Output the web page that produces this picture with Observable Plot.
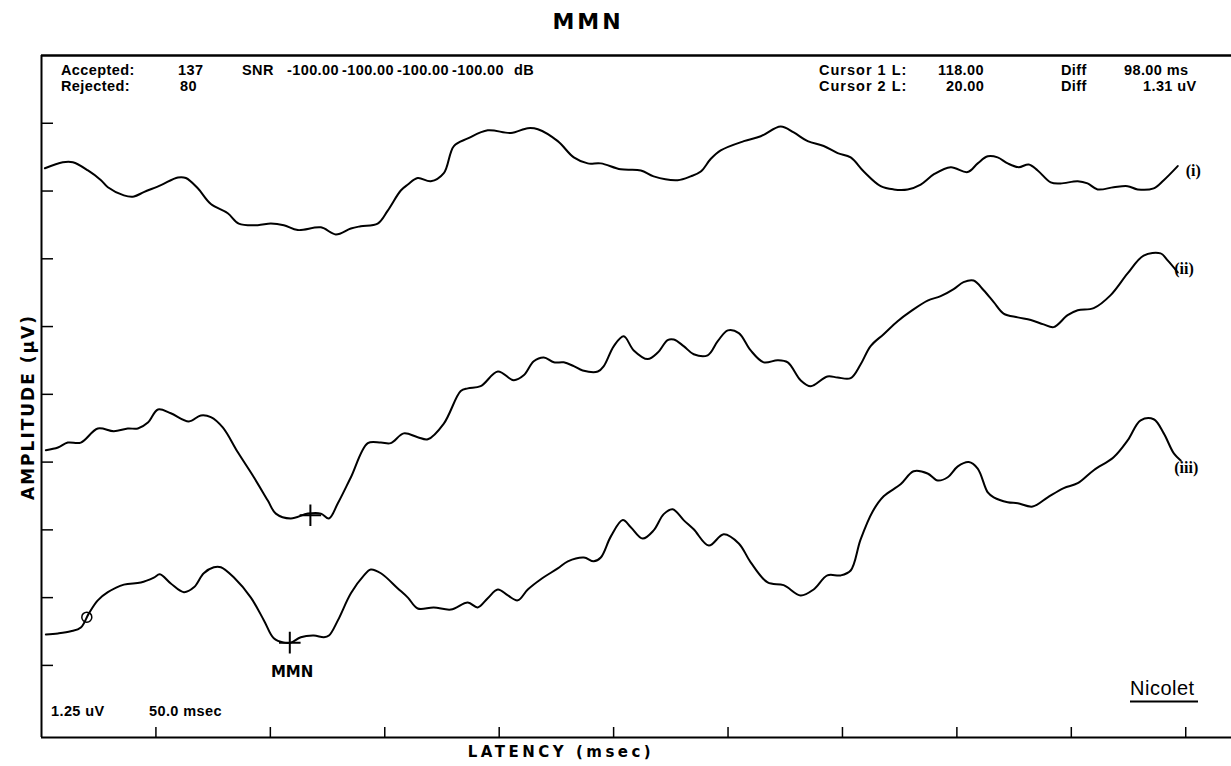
<!DOCTYPE html>
<html><head><meta charset="utf-8">
<script src="https://cdn.jsdelivr.net/npm/d3@7"></script>
<script src="https://cdn.jsdelivr.net/npm/@observablehq/plot@0.6"></script>
<style>
body{margin:0;background:#fff;}
#wrap{position:relative;width:1231px;height:766px;overflow:hidden;background:#fff;}
#wrap svg{position:absolute;left:0;top:0;}
.t{position:absolute;white-space:nowrap;line-height:1;color:#000;transform:translateY(-50%);}
.hd{font-family:"Liberation Sans",sans-serif;font-size:14.5px;font-weight:bold;letter-spacing:0.4px;}
.hand{font-family:"DejaVu Sans",sans-serif;font-weight:bold;}
</style></head><body><div id="wrap"></div>
<script>
// Latency (ms) and amplitude (µV, on the display axis)
const waveI = [[1.5,9.17],[9.3,9.28],[13.7,9.28],[20.3,9.13],[26.0,8.95],[29.0,8.82],[36.0,8.67],[40.4,8.65],[44.7,8.73],[52.2,8.86],[59.6,9.00],[63.1,8.99],[68.3,8.80],[74.0,8.51],[81.4,8.34],[86.2,8.15],[94.5,8.12],[100.2,8.15],[105.9,8.12],[112.0,8.03],[122.1,8.08],[128.6,7.95],[135.2,8.06],[139.5,8.10],[146.9,8.15],[151.3,8.39],[157.0,8.76],[160.1,8.87],[164.4,8.99],[170.1,8.93],[175.8,9.08],[180.2,9.58],[186.3,9.72],[195.0,9.87],[205.1,9.82],[212.5,9.91],[216.9,9.89],[225.6,9.67],[232.6,9.37],[238.7,9.26],[244.4,9.26],[253.1,9.15],[261.9,9.13],[267.5,9.02],[278.0,8.95],[283.7,9.02],[288.1,9.11],[292.4,9.34],[296.8,9.50],[306.9,9.67],[314.3,9.76],[323.0,9.94],[328.7,9.83],[334.8,9.67],[341.8,9.58],[347.9,9.45],[353.6,9.37],[359.3,9.11],[366.7,8.84],[372.4,8.78],[378.5,8.78],[384.2,8.87],[390.0,9.06],[397.3,9.19],[404.7,9.10],[409.1,9.26],[413.5,9.39],[417.8,9.37],[422.2,9.26],[427.0,9.19],[431.4,9.24],[435.3,9.13],[441.0,8.91],[445.3,8.89],[452.8,8.93],[457.1,8.89],[461.5,8.78],[468.5,8.82],[474.6,8.84],[479.0,8.78],[486.0,8.80],[490.4,8.95],[496.5,9.21]];
const waveII = [[1.9,3.97],[7.2,4.02],[11.5,4.11],[17.2,4.11],[24.6,4.37],[31.6,4.32],[37.7,4.37],[42.1,4.37],[46.5,4.48],[50.9,4.72],[56.5,4.65],[64.4,4.50],[69.6,4.61],[74.0,4.58],[79.2,4.39],[85.8,3.93],[92.8,3.47],[98.9,3.04],[102.4,2.80],[108.9,2.71],[116.4,2.80],[122.1,2.80],[125.6,2.71],[129.5,2.99],[135.2,3.47],[142.6,4.10],[148.3,4.11],[152.6,4.10],[158.3,4.28],[164.4,4.21],[168.8,4.17],[175.8,4.46],[183.2,5.06],[186.3,5.11],[191.9,5.15],[199.4,5.42],[206.4,5.26],[210.7,5.35],[215.1,5.61],[219.5,5.68],[223.9,5.59],[228.2,5.59],[232.6,5.52],[236.5,5.44],[243.1,5.42],[245.7,5.52],[250.1,5.89],[254.4,6.07],[258.8,5.81],[264.9,5.65],[269.3,5.77],[273.6,6.00],[276.3,6.01],[280.6,5.89],[285.0,5.74],[291.1,5.72],[295.5,5.98],[299.9,6.18],[304.7,6.13],[309.9,5.81],[315.6,5.59],[321.7,5.63],[326.1,5.59],[331.7,5.26],[336.1,5.15],[343.4,5.33],[347.9,5.31],[353.6,5.30],[357.9,5.55],[362.3,5.89],[368.0,6.11],[374.1,6.35],[379.8,6.53],[387.2,6.73],[392.9,6.81],[398.6,6.94],[402.9,7.07],[407.3,7.10],[411.7,6.92],[416.1,6.70],[420.4,6.49],[426.6,6.42],[432.3,6.37],[437.9,6.29],[442.3,6.24],[448.4,6.46],[452.8,6.55],[459.8,6.59],[467.2,6.83],[474.6,7.23],[481.6,7.56],[489.0,7.60],[492.1,7.47],[496.5,7.25]];
const waveIII = [[1.9,0.57],[7.2,0.59],[12.8,0.63],[17.2,0.70],[20.7,0.96],[24.6,1.20],[29.0,1.35],[36.0,1.49],[43.4,1.53],[49.1,1.62],[51.7,1.68],[56.5,1.51],[62.2,1.35],[66.6,1.44],[70.9,1.70],[75.3,1.81],[78.4,1.81],[84.1,1.62],[91.5,1.25],[97.2,0.83],[101.5,0.50],[105.9,0.42],[108.9,0.42],[113.3,0.52],[119.0,0.55],[123.4,0.52],[125.6,0.55],[129.5,0.83],[135.2,1.33],[140.9,1.66],[143.9,1.77],[148.3,1.70],[155.7,1.42],[160.1,1.25],[164.4,1.05],[171.4,1.07],[178.9,1.03],[186.3,1.16],[190.6,1.07],[195.0,1.24],[199.4,1.40],[203.8,1.29],[208.1,1.20],[212.5,1.40],[218.2,1.59],[225.6,1.79],[230.0,1.92],[237.0,1.99],[241.3,1.92],[244.4,1.99],[248.8,2.38],[254.0,2.68],[257.5,2.55],[262.7,2.34],[267.5,2.49],[271.9,2.79],[275.8,2.88],[280.6,2.68],[285.0,2.51],[291.6,2.21],[298.1,2.42],[304.7,2.25],[309.9,1.90],[317.3,1.53],[324.3,1.48],[331.7,1.29],[337.4,1.40],[343.4,1.66],[349.2,1.66],[353.6,1.75],[357.9,2.32],[363.2,2.84],[368.0,3.12],[375.4,3.34],[381.1,3.58],[387.2,3.54],[391.6,3.41],[396.0,3.47],[400.4,3.67],[405.2,3.75],[409.1,3.63],[413.5,3.19],[416.1,3.10],[422.2,3.01],[426.6,2.99],[433.1,2.93],[439.7,3.10],[446.7,3.27],[452.8,3.36],[459.8,3.60],[468.5,3.84],[474.6,4.15],[480.3,4.52],[486.0,4.54],[490.4,4.28],[494.8,3.91],[497.8,3.78]];

const waveNames = ["i", "ii", "iii"];
const curveLabels = [{t: 500, v: 9.13, label: "(i)"}, {t: 495, v: 7.32, label: "(ii)"}, {t: 495, v: 3.65, label: "(iii)"}];
const cursorMarks = [{t: 117.5, v: 2.77}, {t: 108.5, v: 0.42}];
const circleMarks = [{t: 19.8, v: 0.89}];
const annotations = [{t: 109.5, v: -0.13, label: "MMN"}];

const xMax = 520, yMin = -1.33, yMax = 11.25;
const xTicks = d3.range(50, 520, 50);          // 50 ms per division
const yTicks = d3.range(0, 10.01, 1.25);       // 1.25 µV per division

const rows = [waveI, waveII, waveIII].flatMap((w, i) => w.map(([t, v]) => ({wave: waveNames[i], t, v})));

const chart = Plot.plot({
  width: 1231, height: 766,
  marginTop: 55, marginLeft: 41, marginRight: 0, marginBottom: 29,
  x: {domain: [0, xMax], axis: null},
  y: {domain: [yMin, yMax], axis: null},
  style: {background: "transparent", overflow: "visible"},
  marks: [
    Plot.ruleX([0], {stroke: "black", strokeWidth: 2}),
    Plot.ruleY([yMin], {stroke: "black", strokeWidth: 2}),
    Plot.ruleY([yMax], {stroke: "black", strokeWidth: 2.5}),
    Plot.axisX(xTicks, {anchor: "bottom", tickSize: 10, dy: -10, tickFormat: () => "", strokeWidth: 1.5, label: null}),
    Plot.axisY(yTicks, {anchor: "left", tickSize: 12, dx: 12, tickFormat: () => "", strokeWidth: 1.5, label: null}),
    Plot.line(rows, {x: "t", y: "v", z: "wave", stroke: "black", strokeWidth: 2, curve: "catmull-rom", strokeLinejoin: "round"}),
    Plot.dot(cursorMarks, {x: "t", y: "v", symbol: "plus", r: 7, stroke: "black", strokeWidth: 2}),
    Plot.dot(circleMarks, {x: "t", y: "v", r: 5, stroke: "black", strokeWidth: 1.5, fill: "none"}),
    Plot.text(curveLabels, {x: "t", y: "v", text: "label", textAnchor: "start", fontSize: 16, fontWeight: "bold", fontFamily: "Liberation Serif", fill: "black"}),
    Plot.text(annotations, {x: "t", y: "v", text: "label", fontSize: 15, fontWeight: "bold", fontFamily: "DejaVu Sans", fill: "black"})
  ]
});
const wrap = document.getElementById("wrap");
wrap.appendChild(chart);

function put(text, left, cy, cls, extra) {
  const d = document.createElement("div");
  d.className = "t " + cls;
  d.textContent = text;
  d.style.left = left + "px";
  d.style.top = cy + "px";
  if (extra) Object.assign(d.style, extra);
  wrap.appendChild(d);
  return d;
}
// title
put("MMN", 588, 22, "hand", {fontSize: "22px", letterSpacing: "3px", transform: "translate(-50%,-50%)"});
// header block
put("Accepted:", 61, 70, "hd"); put("137", 178, 70, "hd"); put("SNR", 242, 70, "hd");
["-100.00", "-100.00", "-100.00", "-100.00"].forEach((s, i) => put(s, 287 + i * 55, 70, "hd"));
put("dB", 514, 70, "hd");
put("Rejected:", 61, 86, "hd"); put("80", 180, 86, "hd");
put("Cursor 1 L:", 819, 70, "hd", {letterSpacing: "1px"}); put("118.00", 938, 70, "hd"); put("Diff", 1061, 70, "hd"); put("98.00 ms", 1124, 70, "hd");
put("Cursor 2 L:", 819, 86, "hd", {letterSpacing: "1px"}); put("20.00", 946, 86, "hd"); put("Diff", 1061, 86, "hd"); put("1.31 uV", 1143, 86, "hd");
// scale info
put("1.25 uV", 51, 711, "hd"); put("50.0 msec", 149, 711, "hd");
put("Nicolet", 1130, 690, "", {fontFamily: "Liberation Sans, sans-serif", fontSize: "20px", letterSpacing: "0.5px", borderBottom: "2.5px solid #000", paddingBottom: "3px", paddingRight: "3px"});
// axis titles
put("LATENCY (msec)", 561, 752, "hand", {fontSize: "15px", letterSpacing: "3.5px", transform: "translate(-50%,-50%)"});
put("AMPLITUDE (µV)", 28, 407, "hand", {fontSize: "17px", letterSpacing: "2px", transform: "translate(-50%,-50%) rotate(-90deg)"});
</script>
</body></html>
